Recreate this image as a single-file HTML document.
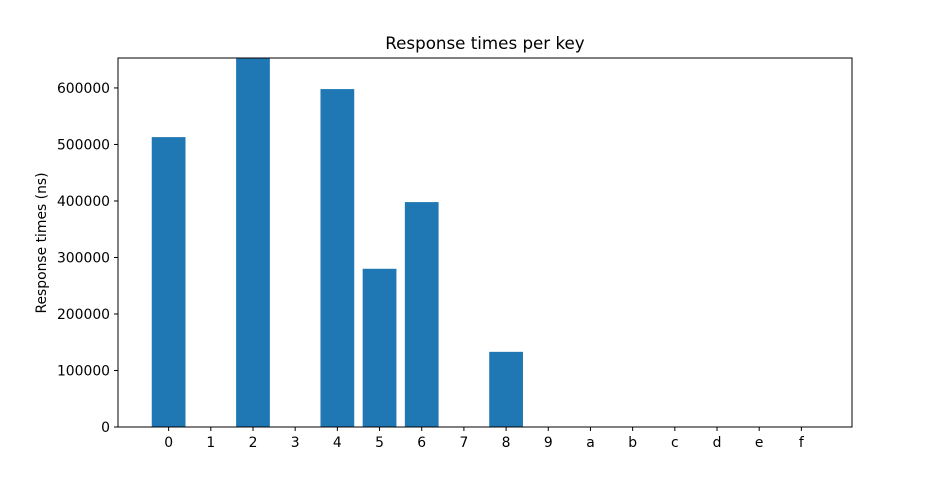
<!DOCTYPE html>
<html><head><meta charset="utf-8"><style>
body{margin:0;background:#fff}
svg{display:block;font-family:"DejaVu Sans","Liberation Sans",sans-serif}
</style></head><body>
<svg id="chart" width="947" height="480">
<rect width="947" height="480" fill="#fff"/>
<text x="485" y="49" text-anchor="middle" font-size="16.7">Response times per key</text>
<text transform="translate(46,243) rotate(-90)" text-anchor="middle" font-size="13.9">Response times (ns)</text>
<g id="bars"></g>
<g id="axes"></g>
</svg>
<script>
const categories=["0","1","2","3","4","5","6","7","8","9","a","b","c","d","e","f"];
const values=[513000,0,653000,0,598000,280000,398000,0,133000,0,0,0,0,0,0,0];
const yTicks=[0,100000,200000,300000,400000,500000,600000];
const L=118,R=852,T=58,B=427,YMAX=653000,XMIN=-1.2,XMAX=16.2;
const xs=i=>L+(i-XMIN)/(XMAX-XMIN)*(R-L);
const ys=v=>B-v/YMAX*(B-T);
const ns="http://www.w3.org/2000/svg";
const bars=document.getElementById('bars'),axes=document.getElementById('axes');
const bw=0.8*(R-L)/(XMAX-XMIN);
values.forEach((v,i)=>{
 const r=document.createElementNS(ns,'rect');
 r.setAttribute('x',xs(i)-bw/2);r.setAttribute('y',ys(v));
 r.setAttribute('width',bw);r.setAttribute('height',B-ys(v));
 r.setAttribute('fill','#1f77b4');
 
 
 bars.appendChild(r);
});
const fr=document.createElementNS(ns,'rect');
fr.setAttribute('x',L);fr.setAttribute('y',T);fr.setAttribute('width',R-L);fr.setAttribute('height',B-T);
fr.setAttribute('fill','none');fr.setAttribute('stroke','#000');fr.setAttribute('stroke-width','1');


axes.appendChild(fr);
categories.forEach((c,i)=>{
 const l=document.createElementNS(ns,'line');
 l.setAttribute('x1',xs(i));l.setAttribute('x2',xs(i));l.setAttribute('y1',B);l.setAttribute('y2',B+4);l.setAttribute('stroke','#000');
 
 
 axes.appendChild(l);
 const t=document.createElementNS(ns,'text');
 t.setAttribute('x',xs(i));t.setAttribute('y',B+20);t.setAttribute('text-anchor','middle');t.setAttribute('font-size','13.9');
 t.textContent=c;
 
 
 axes.appendChild(t);
});
yTicks.forEach(v=>{
 const l=document.createElementNS(ns,'line');
 l.setAttribute('x1',L-4);l.setAttribute('x2',L);l.setAttribute('y1',ys(v));l.setAttribute('y2',ys(v));l.setAttribute('stroke','#000');
 
 
 axes.appendChild(l);
 const t=document.createElementNS(ns,'text');
 t.setAttribute('x',L-8);t.setAttribute('y',ys(v)+5);t.setAttribute('text-anchor','end');t.setAttribute('font-size','13.9');
 t.textContent=String(v);
 
 
 axes.appendChild(t);
});
</script>
</body></html>
